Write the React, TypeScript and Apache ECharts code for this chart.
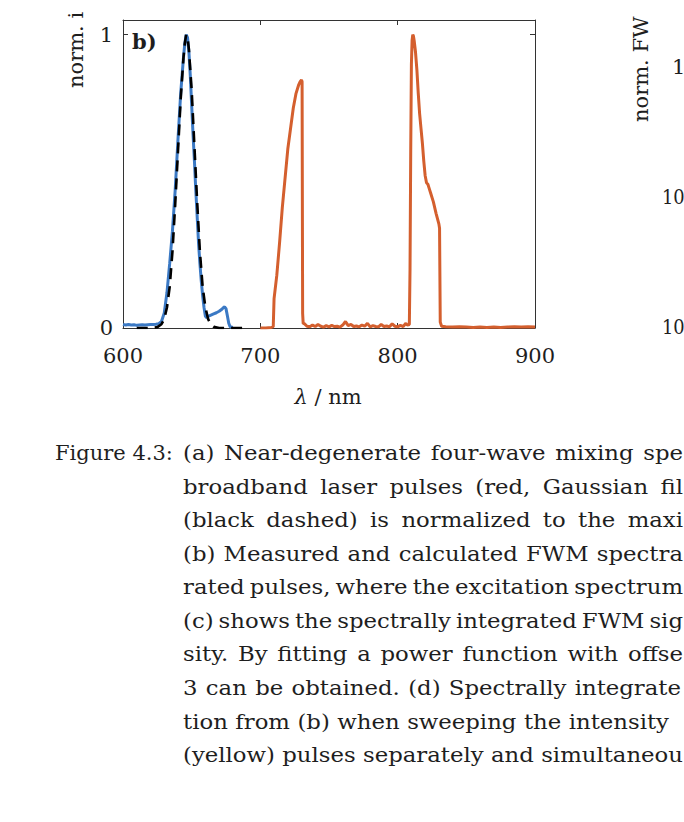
import React, { useEffect, useRef } from "react";
import * as echarts from "echarts";

// ---- data ----
const xTicks = [600, 700, 800, 900];
const yTicks = [0, 1];

// measured excitation spectrum (blue)
const blueSpectrum: [number, number][] = [
  [600, 0.012], [602, 0.01], [604, 0.012], [606, 0.01], [608, 0.011], [610, 0.009],
  [612, 0.01], [614, 0.011], [616, 0.01], [618, 0.011], [620, 0.012], [622, 0.012],
  [624, 0.013], [626, 0.015], [628, 0.022], [630, 0.05], [632, 0.12], [634, 0.22],
  [636, 0.33], [638, 0.47], [640, 0.64], [642, 0.8], [644, 0.92], [645, 0.97],
  [646, 1.0], [647, 0.99], [648, 0.94], [649, 0.86], [650, 0.76], [651, 0.66],
  [652, 0.57], [653, 0.47], [654, 0.38], [655, 0.29], [656, 0.22], [657, 0.16],
  [658, 0.11], [659, 0.07], [660, 0.04], [661, 0.035], [662, 0.04], [664, 0.044],
  [666, 0.048], [668, 0.052], [670, 0.057], [672, 0.064], [673, 0.069], [674, 0.072],
  [675, 0.066], [676, 0.042], [677, 0.016], [678, 0.004], [680, 0.002],
];

// Gaussian fit (black dashed)
const gaussFit: [number, number][] = [
  [610, 0], [620, 0], [625, 0.003], [628, 0.013], [630, 0.03], [632, 0.07],
  [634, 0.14], [636, 0.26], [638, 0.42], [640, 0.6], [642, 0.78], [644, 0.92],
  [645, 0.97], [646, 1.0], [647, 0.99], [648, 0.95], [650, 0.81], [652, 0.62],
  [654, 0.43], [656, 0.26], [658, 0.14], [660, 0.07], [662, 0.03], [664, 0.012],
  [666, 0.004], [670, 0], [680, 0], [690, 0],
];

// FWM spectrum (red)
const fwmSpectrum: [number, number][] = [
  [700, 0], [702, 0], [704, 0], [706, 0.001], [708, 0.002], [709.4, 0.004],
  [710, 0.1], [712, 0.18], [714, 0.29], [716, 0.41], [718, 0.51], [720, 0.61],
  [722, 0.68], [724, 0.75], [726, 0.8], [728, 0.83], [729, 0.84], [730, 0.846],
  [730.4, 0.84], [730.8, 0.05], [731.2, 0.015], [732, 0.015], [734, 0.006],
  [736, 0.004], [738, 0.01], [740, 0.005], [742, 0.012], [744, 0.006], [746, 0.003],
  [748, 0.008], [750, 0.004], [752, 0.009], [754, 0.005], [756, 0.006], [758, 0.003],
  [760, 0.01], [762, 0.022], [764, 0.008], [766, 0.012], [768, 0.005], [770, 0.007],
  [772, 0.004], [774, 0.01], [776, 0.006], [778, 0.016], [780, 0.004], [782, 0.008],
  [784, 0.005], [786, 0.004], [788, 0.012], [790, 0.005], [792, 0.007], [794, 0.004],
  [796, 0.014], [798, 0.006], [800, 0.004], [802, 0.009], [804, 0.005], [806, 0.016],
  [807, 0.01], [808.5, 0.012], [809, 0.2], [809.5, 0.6], [810, 0.9], [810.5, 0.98],
  [811, 1.0], [811.5, 0.995], [812, 0.98], [813, 0.94], [814, 0.88], [815, 0.8],
  [816, 0.73], [817, 0.68], [818, 0.63], [819, 0.57], [820, 0.52], [821, 0.495],
  [822, 0.49], [823, 0.475], [824, 0.46], [826, 0.43], [828, 0.39], [830, 0.355],
  [830.5, 0.34], [831, 0.02], [832, 0.006], [835, 0.004], [840, 0.003], [845, 0.004],
  [850, 0.003], [855, 0.002], [860, 0.003], [865, 0.002], [870, 0.003], [875, 0.002],
  [880, 0.003], [885, 0.004], [890, 0.003], [895, 0.004], [900, 0.003],
];

const captionLabel = "Figure 4.3:";
const captionLines = [
  "(a) Near-degenerate four-wave mixing spe",
  "broadband laser pulses (red, Gaussian fil",
  "(black dashed) is normalized to the maxi",
  "(b) Measured and calculated FWM spectra",
  "rated pulses, where the excitation spectrum",
  "(c) shows the spectrally integrated FWM sig",
  "sity. By fitting a power function with offse",
  "3 can be obtained. (d) Spectrally integrate",
  "tion from (b) when sweeping the intensity",
  "(yellow) pulses separately and simultaneou",
];
// right edge (px) each justified caption line reaches in the reference
const captionEnds = [683, 683, 683, 683, 683, 683, 683, 681, 669, 683];
const rightTickLabels = ["1", "10", "10"];

const FONT = "DejaVu Serif";
const INK = "#1e1e1e";
const WORD_SCALE = 1.085;

export default function App() {
  const ref = useRef<HTMLDivElement>(null);
  useEffect(() => {
    document.body.style.margin = "0";
    if (!ref.current) return;
    const chart = echarts.init(ref.current, undefined, { renderer: "svg" });

    const axisLineStyle = { color: "#333333", width: 1 };
    const txt = (x: number, y: number, text: string, extra: any = {}, el: any = {}) => ({
      type: "text",
      x,
      y,
      silent: true,
      ...el,
      style: {
        text,
        fill: INK,
        fontFamily: FONT,
        fontSize: 21,
        align: "left",
        verticalAlign: "middle",
        textAlign: "left",
        textVerticalAlign: "middle",
        ...extra,
      },
    });

    const canvas = document.createElement("canvas");
    const ctx = canvas.getContext("2d")!;
    ctx.font = `21px "${FONT}"`;
    const spaceW = ctx.measureText(" ").width;

    const graphics: any[] = [];
    graphics.push(txt(132, 41, "b)", { fontWeight: "bold", fontSize: 21 }));
    graphics.push(
      txt(328, 397, "{i|λ} / nm", {
        align: "center",
        textAlign: "center",
        rich: { i: { fontStyle: "italic", fontFamily: FONT, fontSize: 21, fill: INK } },
      })
    );
    graphics.push(txt(0, 0, "norm. i", {}, { x: 76, y: 88, rotation: Math.PI / 2 }));
    graphics.push(txt(0, 0, "norm. FW", {}, { x: 641, y: 122, rotation: Math.PI / 2 }));
    const rtY = [67, 197, 327];
    const rtX = [672, 662, 662];
    rightTickLabels.forEach((t, i) =>
      graphics.push(txt(0, 0, t, {}, { x: rtX[i], y: rtY[i], scaleX: i === 0 ? 1 : 0.85 }))
    );
    graphics.push(txt(55, 453, captionLabel));

    captionLines.forEach((line, i) => {
      const y = 453 + i * 33.55;
      const words = line.split(" ");
      const widths = words.map((w) => ctx.measureText(w).width * WORD_SCALE);
      const total = widths.reduce((a, b) => a + b, 0);
      let gap = (captionEnds[i] - 183 - total) / Math.max(1, words.length - 1);
      if (!isFinite(gap) || gap < spaceW * 0.6) gap = spaceW;
      let x = 183;
      words.forEach((w, k) => {
        graphics.push(txt(0, 0, w, {}, { x, y, scaleX: WORD_SCALE }));
        x += widths[k] + gap;
      });
    });

    const option: any = {
      animation: false,
      backgroundColor: "#ffffff",
      grid: { left: 123, top: 20, width: 412, height: 308, containLabel: false },
      xAxis: [
        {
          type: "value",
          min: xTicks[0],
          max: xTicks[xTicks.length - 1],
          interval: 100,
          position: "bottom",
          axisLine: { show: true, onZero: false, lineStyle: axisLineStyle },
          axisTick: { show: true, inside: true, length: 5, lineStyle: axisLineStyle },
          axisLabel: { fontFamily: FONT, fontSize: 21, color: INK, margin: 17 },
          splitLine: { show: false },
        },
        {
          type: "value",
          min: xTicks[0],
          max: xTicks[xTicks.length - 1],
          interval: 100,
          position: "top",
          axisLine: { show: true, onZero: false, lineStyle: axisLineStyle },
          axisTick: { show: true, inside: true, length: 5, lineStyle: axisLineStyle },
          axisLabel: { show: false },
          splitLine: { show: false },
        },
      ],
      yAxis: [
        {
          type: "value",
          min: yTicks[0],
          max: 1.05,
          interval: 1,
          position: "left",
          axisLine: { show: true, onZero: false, lineStyle: axisLineStyle },
          axisTick: { show: true, inside: true, length: 5, lineStyle: axisLineStyle },
          axisLabel: { fontFamily: FONT, fontSize: 21, color: INK, margin: 10, showMaxLabel: false },
          splitLine: { show: false },
        },
        {
          type: "value",
          min: yTicks[0],
          max: 1.05,
          interval: 1,
          position: "right",
          axisLine: { show: true, onZero: false, lineStyle: axisLineStyle },
          axisTick: { show: true, inside: true, length: 5, lineStyle: axisLineStyle },
          axisLabel: { show: false },
          splitLine: { show: false },
        },
      ],
      series: [
        {
          type: "line",
          data: blueSpectrum,
          showSymbol: false,
          lineStyle: { color: "#3b79c4", width: 3 },
          z: 2,
        },
        {
          type: "line",
          data: gaussFit,
          showSymbol: false,
          lineStyle: { color: "#000000", width: 2.6, type: [11, 7] },
          z: 3,
        },
        {
          type: "line",
          data: fwmSpectrum,
          showSymbol: false,
          lineStyle: { color: "#d45f2e", width: 3 },
          z: 2,
        },
      ],
      graphic: graphics,
    };
    chart.setOption(option);
    return () => chart.dispose();
  }, []);
  return <div ref={ref} style={{ width: 684, height: 822 }} />;
}
